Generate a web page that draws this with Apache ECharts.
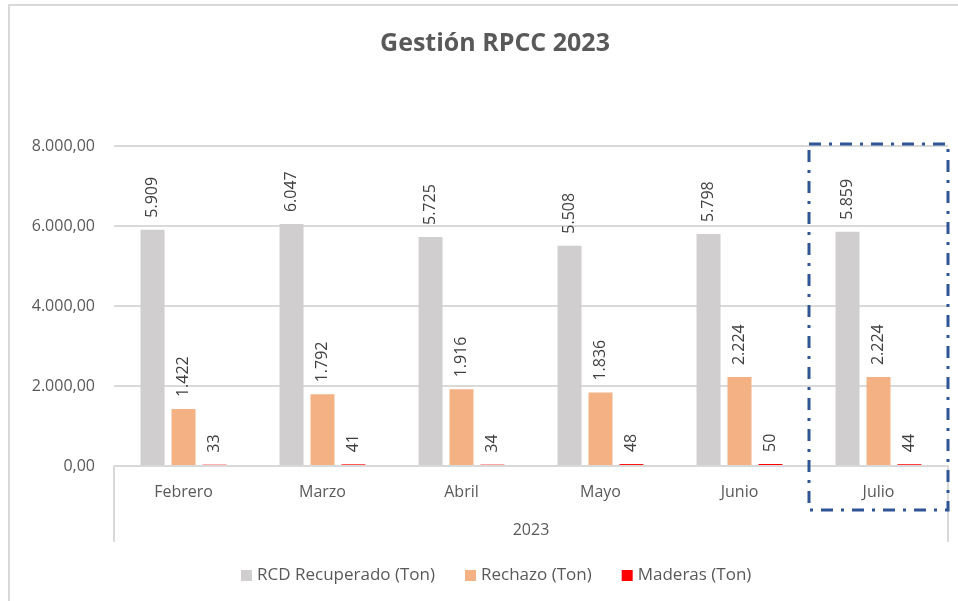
<!DOCTYPE html>
<html>
<head>
<meta charset="utf-8">
<script src="https://cdn.jsdelivr.net/npm/echarts@6/dist/echarts.min.js"></script>
<style>
  html, body { margin: 0; padding: 0; background: #fff; }
  #chart { width: 958px; height: 601px; }
</style>
</head>
<body>
<div id="chart"></div>
<script>
// Monthly tonnage managed in 2023
const months = ['Febrero', 'Marzo', 'Abril', 'Mayo', 'Junio', 'Julio'];
const yearLabel = ['2023'];
const rcdRecuperado = [5909, 6047, 5725, 5508, 5798, 5859];
const rechazo = [1422, 1792, 1916, 1836, 2224, 2224];
const maderas = [33, 41, 34, 48, 50, 44];
const seriesNames = ['RCD Recuperado (Ton)', 'Rechazo (Ton)', 'Maderas (Ton)'];
const highlightedMonth = 'Julio';

const FONT = '"Open Sans", "Noto Sans", sans-serif';
const TEXT = '#595959';
const GRID_LINE = '#D9D9D9';

function thousands(v) {
  return String(Math.round(v)).replace(/\B(?=(\d{3})+(?!\d))/g, '.');
}

const chart = echarts.init(document.getElementById('chart'), null, { renderer: 'canvas' });

const valueLabel = {
  show: true,
  position: 'top',
  rotate: 90,
  align: 'left',
  verticalAlign: 'middle',
  distance: 12,
  color: '#404040',
  fontFamily: FONT,
  fontSize: 16,
  formatter: p => thousands(p.value)
};

function barSeries(name, data, color) {
  return {
    name: name,
    type: 'bar',
    data: data,
    barWidth: 24,
    barGap: '29%',
    itemStyle: { color: color },
    label: valueLabel,
    z: 2
  };
}

chart.setOption({
  animation: false,
  title: {
    text: 'Gestión RPCC 2023',
    left: 490,
    top: 26,
    textAlign: 'center',
    textStyle: { color: TEXT, fontFamily: FONT, fontSize: 25, fontWeight: 'bold' }
  },
  legend: {
    data: seriesNames,
    left: 236,
    top: 562,
    itemWidth: 11,
    itemHeight: 11,
    itemGap: 30,
    icon: 'rect',
    textStyle: { color: TEXT, fontFamily: FONT, fontSize: 17 }
  },
  grid: { left: 114, right: 10, top: 146, bottom: 135, containLabel: false },
  xAxis: [
    {
      type: 'category',
      data: months,
      z: 5,
      axisLine: { show: true, lineStyle: { color: GRID_LINE, width: 2 } },
      axisTick: { show: false },
      axisLabel: { color: TEXT, fontFamily: FONT, fontSize: 16, margin: 18 }
    },
    {
      type: 'category',
      data: yearLabel,
      position: 'bottom',
      gridIndex: 0,
      axisLine: { show: false },
      axisTick: { show: true, inside: false, length: 76, alignWithLabel: false, lineStyle: { color: GRID_LINE, width: 2 } },
      axisLabel: { color: TEXT, fontFamily: FONT, fontSize: 16, margin: 56 },
      splitLine: { show: false }
    }
  ],
  yAxis: {
    type: 'value',
    min: 0,
    max: 8000,
    interval: 2000,
    axisLine: { show: false },
    axisTick: { show: false },
    splitLine: { lineStyle: { color: GRID_LINE, width: 2 } },
    axisLabel: {
      color: TEXT, fontFamily: FONT, fontSize: 16, margin: 19,
      formatter: v => thousands(v) + ',00'
    }
  },
  series: [
    barSeries(seriesNames[0], rcdRecuperado, '#D0CECE'),
    barSeries(seriesNames[1], rechazo, '#F4B183'),
    barSeries(seriesNames[2], maderas, '#FF0000')
  ]
});

// Outer frame and the dash-dot box around the highlighted month
const cx = chart.convertToPixel({ xAxisIndex: 0 }, highlightedMonth);
const band = chart.convertToPixel({ xAxisIndex: 0 }, months[1]) - chart.convertToPixel({ xAxisIndex: 0 }, months[0]);
const yTop = chart.convertToPixel({ yAxisIndex: 0 }, 8000);
const yZero = chart.convertToPixel({ yAxisIndex: 0 }, 0);

chart.setOption({
  graphic: [
    {
      type: 'polyline',
      shape: { points: [[9, 601], [9, 5], [958, 5]] },
      style: { stroke: '#D9D9D9', lineWidth: 2, fill: null },
      silent: true
    },
    {
      type: 'rect',
      shape: { x: cx - band / 2, y: yTop - 2, width: band, height: (yZero + 44) - (yTop - 2) },
      style: { stroke: '#2F5597', lineWidth: 3, fill: null, lineDash: [12, 8, 3, 8] },
      z: 100,
      silent: true
    }
  ]
});
</script>
</body>
</html>
